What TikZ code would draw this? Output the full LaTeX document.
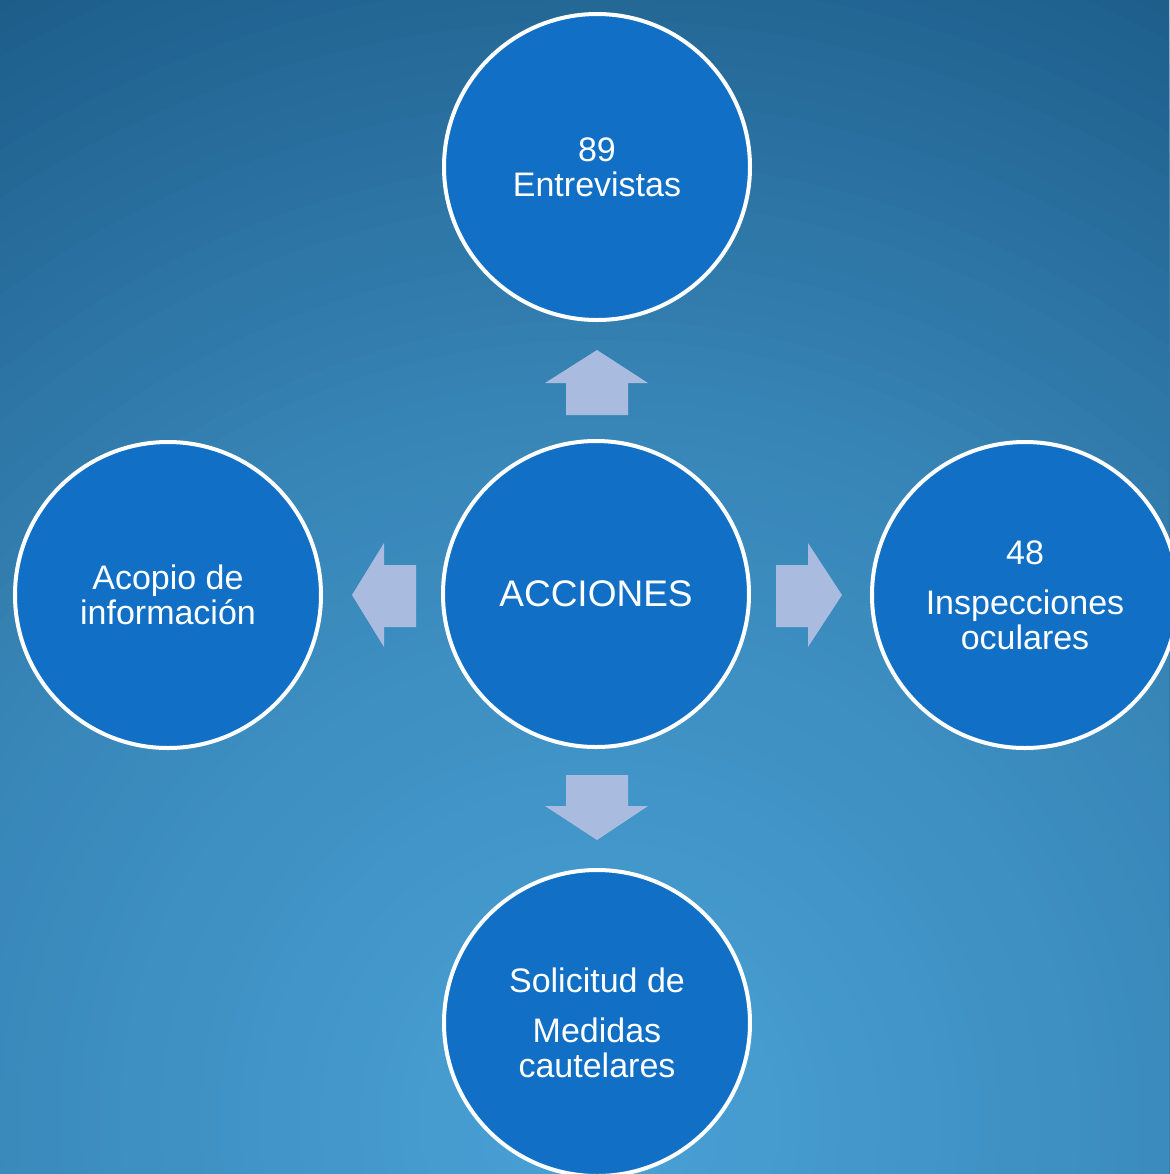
\documentclass[tikz,border=0pt]{standalone}
\usepackage{fontspec}
\setmainfont{Liberation Sans}
\definecolor{bgA}{HTML}{4AA2D6}
\definecolor{bgB}{HTML}{3886B8}
\definecolor{bgC}{HTML}{1B5B88}
\definecolor{circ}{HTML}{1170C6}
\definecolor{arr}{HTML}{AABBE0}
\begin{document}
\begin{tikzpicture}[x=0.5pt,y=-0.5pt,
  bubble/.style={circle, draw=white, line width=2pt, fill=circ, minimum size=153pt,
    inner sep=0pt, text=white, align=center, font=\fontsize{17}{17.5}\selectfont},
  blockarrow/.style={fill=arr, draw=none}]
\useasboundingbox (0,0) rectangle (1169,1174);
\begin{scope}
  \clip (0,0) rectangle (1169,1174);
  \fill[bgC] (0,0) rectangle (1169,1174);
  \foreach \r in {1300,1280,...,720}{
    \pgfmathtruncatemacro\p{(\r-700)/6}
    \fill[bgC!\p!bgB] (600,1120) circle[radius=\r];
  }
  \foreach \r in {700,680,...,20}{
    \pgfmathtruncatemacro\p{\r/7}
    \fill[bgB!\p!bgA] (600,1120) circle[radius=\r];
  }
\end{scope}

\node[bubble] (top) at (597,167) {89\\Entrevistas};
\node[bubble, font=\fontsize{18.5}{20}\selectfont] (center) at (596,594) {ACCIONES};
\node[bubble] (right) at (1025,595) {48\\[7.5pt]Inspecciones\\oculares};
\node[bubble] (left) at (168,595) {Acopio de\\información};
\node[bubble] (bottom) at (597,1023) {Solicitud de\\[7.5pt]Medidas\\cautelares};

\fill[blockarrow] (597,350) -- (648,383) -- (628,383) -- (628,415) -- (566,415) -- (566,383) -- (545,383) -- cycle;
\fill[blockarrow] (566,775) -- (628,775) -- (628,806) -- (648,806) -- (597,840) -- (545,806) -- (566,806) -- cycle;
\fill[blockarrow] (352,595) -- (384,543) -- (384,565) -- (416,565) -- (416,627) -- (384,627) -- (384,647) -- cycle;
\fill[blockarrow] (776,565) -- (808,565) -- (808,543) -- (842,595) -- (808,647) -- (808,627) -- (776,627) -- cycle;
\end{tikzpicture}
\end{document}
